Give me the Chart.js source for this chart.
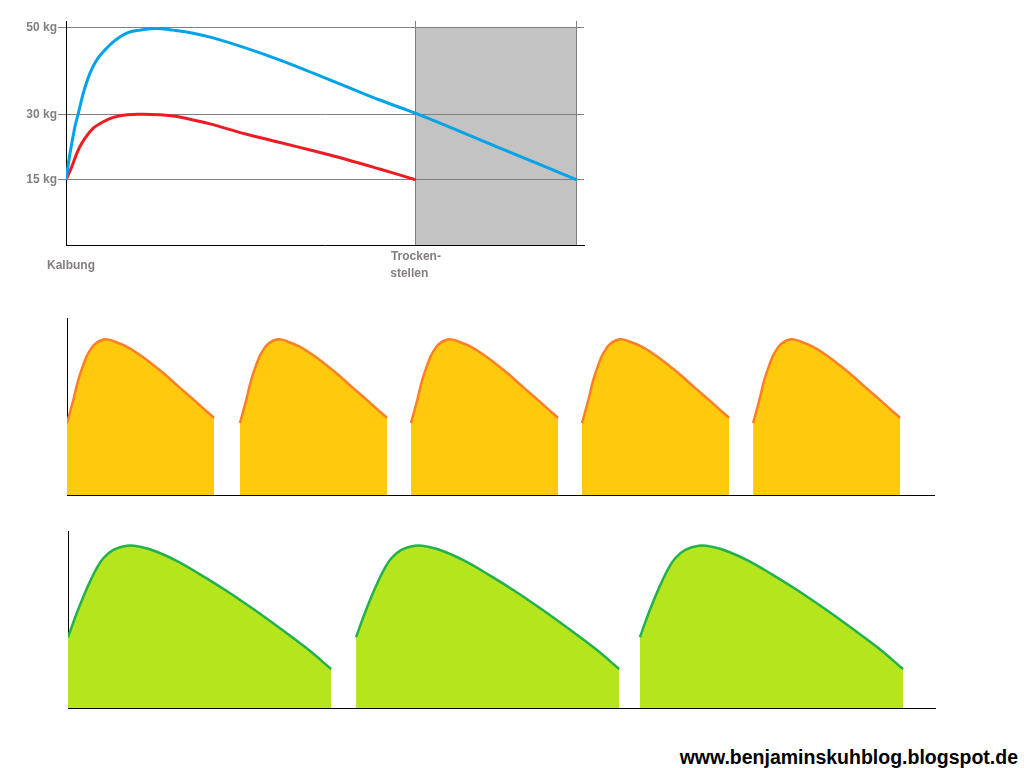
<!DOCTYPE html>
<html>
<head>
<meta charset="utf-8">
<title>Laktationskurven</title>
<script src="https://cdn.jsdelivr.net/npm/chart.js@4.4.0/dist/chart.umd.min.js"></script>
<style>
  body { margin:0; background:#fff; width:1024px; height:768px; position:relative; overflow:hidden; }
  canvas { position:absolute; left:0; }
  #c1 { top:0; }
  #c2 { top:300px; }
  #c3 { top:515px; }
  #url { position:absolute; right:6px; top:747px; font:bold 19.5px "Liberation Sans", Arial, sans-serif; line-height:20px; color:#000; white-space:nowrap; }
</style>
</head>
<body>
<canvas id="c1" width="600" height="290"></canvas>
<canvas id="c2" width="1024" height="210"></canvas>
<canvas id="c3" width="1024" height="210"></canvas>
<div id="url">www.benjaminskuhblog.blogspot.de</div>
<script>
// top chart: kg milk per day over one lactation
var kgTicks = [15, 30, 50];
var kgLabels = ['15 kg', '30 kg', '50 kg'];
var phaseTicks = [0, 68.5, 100];
var phaseLabels = ['   Kalbung', ['Trocken-', 'stellen    '], ''];

var highX = [0, 0.78, 1.76, 2.41, 3.39, 4.7, 6.01, 7.3, 9.26, 11.9, 14.5, 17.7, 21, 24.9, 28.8, 35.4, 41.9, 48.4, 54.9, 61.4, 68.5, 84, 100];
var highY = [15, 21.1, 27.3, 30.3, 35, 39.6, 42.6, 44.5, 46.8, 48.8, 49.5, 49.9, 49.5, 48.8, 47.7, 45.3, 42.6, 39.6, 36.5, 33.4, 30.3, 22.8, 15];
var normX = [0, 1.12, 2.41, 3.72, 5.34, 7.3, 9.26, 11.9, 15.1, 18.4, 21.7, 24.9, 28.2, 35.4, 41.9, 48.4, 54.9, 61.4, 68.5];
var normY = [15, 18, 21.9, 24.6, 26.9, 28.4, 29.4, 30, 30.1, 30, 29.6, 28.8, 27.9, 25.5, 23.6, 21.7, 19.7, 17.5, 15];
var dryX = [68.5, 100];
var dryY = [50, 50];

// middle chart: one calf per year
var calvingA = [0, 368, 732, 1096, 1460];
var humpDaysA = [0, 13.4, 24, 34.7, 45.3, 59.6, 80.9, 102, 127, 155.4, 183.7, 212.2, 240.5, 268.8, 297.3, 313];
var humpYieldA = [40.6, 53.7, 65, 73.5, 80.1, 85.3, 88, 86.6, 83.8, 79.1, 73.4, 67.2, 60.5, 54, 47.2, 43.6];

// bottom chart: extended lactation
var calvingB = [0, 613, 1217];
var humpDaysB = [0, 18.5, 32.6, 46.8, 61.1, 75.1, 96.4, 124.9, 153.2, 188.8, 231.3, 280.9, 337.7, 394.3, 451.2, 508, 560];
var humpYieldB = [40, 53.5, 62.9, 71.4, 79, 84.6, 89.3, 91.7, 91.1, 88.3, 83.1, 75.5, 66.1, 55.9, 45, 33.7, 22];

Chart.defaults.font.family = '"Liberation Sans", Arial, sans-serif';
var labelColor = '#847e7e';

function toPoints(xs, ys) {
  return xs.map(function(x, i) { return {x: x, y: ys[i]}; });
}

new Chart(document.getElementById('c1'), {
  type: 'line',
  data: {
    datasets: [
      { label: 'Trockenzeit', data: toPoints(dryX, dryY), borderWidth: 0, pointRadius: 0,
        backgroundColor: '#c3c3c3', fill: 'origin' },
      { label: 'hohe Leistung', data: toPoints(highX, highY), borderColor: '#00a2e8', borderWidth: 3,
        pointRadius: 0, fill: false, tension: 0.4 },
      { label: 'normale Leistung', data: toPoints(normX, normY), borderColor: '#ed1c24', borderWidth: 3,
        pointRadius: 0, fill: false, tension: 0.4 }
    ]
  },
  options: {
    responsive: false,
    animation: false,
    layout: { padding: { top: 21, right: 16, left: 0, bottom: 0 } },
    plugins: { legend: { display: false }, tooltip: { enabled: false }, filler: { drawTime: 'beforeDraw' } },
    scales: {
      x: {
        type: 'linear', min: 0, max: 101.4,
        afterBuildTicks: function(s) { s.ticks = phaseTicks.map(function(v) { return {value: v}; }); },
        afterFit: function(s) { s.height = 45; },
        grid: { drawTicks: false, lineWidth: 1,
          color: function(ctx) { return ctx.tick && ctx.tick.value === 0 ? 'rgba(0,0,0,0)' : '#808080'; } },
        border: { color: '#000', width: 1 },
        ticks: { autoSkip: false, maxRotation: 0, padding: 12, crossAlign: 'center', color: labelColor,
          font: { size: 12, weight: 'bold', lineHeight: 1.4 },
          callback: function(v, i) { return phaseLabels[i]; } }
      },
      y: {
        min: 0, max: 51.6,
        afterBuildTicks: function(s) { s.ticks = kgTicks.map(function(v) { return {value: v}; }); },
        afterFit: function(s) { s.width = 66; },
        grid: { color: '#808080', lineWidth: 1, tickLength: 8 },
        border: { color: '#000', width: 1 },
        ticks: { padding: 1, color: labelColor, font: { size: 12, weight: 'bold' },
          callback: function(v, i) { return kgLabels[i]; } }
      }
    }
  }
});

function humpChart(id, starts, days, yields, fillColor, lineColor, pad, axisW, axisH) {
  var sets = starts.map(function(start, n) {
    return {
      label: 'Laktation ' + (n + 1),
      data: days.map(function(d, i) { return {x: start + d, y: yields[i]}; }),
      backgroundColor: fillColor, borderColor: lineColor, borderWidth: 2.5,
      pointRadius: 0, fill: 'origin', tension: 0.4
    };
  });
  new Chart(document.getElementById(id), {
    type: 'line',
    data: { datasets: sets },
    options: {
      responsive: false,
      animation: false,
      layout: { padding: pad },
      plugins: { legend: { display: false }, tooltip: { enabled: false } },
      scales: {
        x: { type: 'linear', min: 0, max: 1845, grid: { display: false }, ticks: { display: false },
          border: { color: '#000', width: 1 }, afterFit: function(s) { s.height = axisH; } },
        y: { min: 0, max: 100, grid: { display: false }, ticks: { display: false },
          border: { color: '#000', width: 1 }, afterFit: function(s) { s.width = axisW; } }
      }
    }
  });
}

humpChart('c2', calvingA, humpDaysA, humpYieldA, '#ffc90e', '#ff7f27',
  { top: 18, right: 90, left: 0, bottom: 0 }, 67, 15);
humpChart('c3', calvingB, humpDaysB, humpYieldB, '#b5e61d', '#22b14c',
  { top: 16, right: 89, left: 0, bottom: 0 }, 68, 17);
</script>
</body>
</html>
